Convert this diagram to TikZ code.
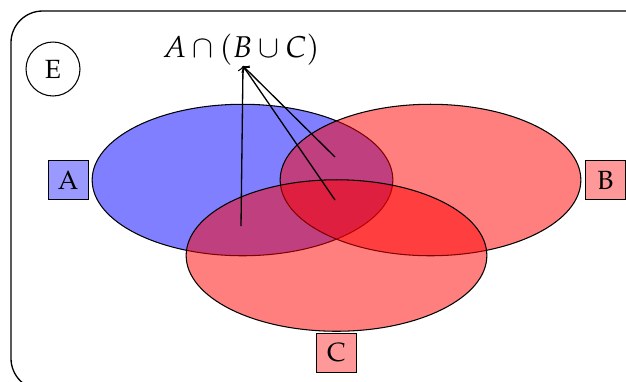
\documentclass[tikz,border=0pt]{standalone}
\usepackage[T1]{fontenc}
\usepackage{mathpazo}
\usetikzlibrary{shapes.geometric,positioning}
\begin{document}
\begin{tikzpicture}[x=0.013333cm,y=-0.013333cm,
  setA/.style={ellipse,draw,fill=blue,fill opacity=0.5,text opacity=1,minimum width=4.01cm,minimum height=2.02cm,inner sep=0pt},
  setR/.style={ellipse,draw,fill=red,fill opacity=0.5,text opacity=1,minimum width=4.01cm,minimum height=2.02cm,inner sep=0pt},
  tagbox/.style={draw,minimum size=0.53cm,inner sep=0pt},
  link/.style={->,line width=0.5pt}]
\useasboundingbox (0,0) rectangle (626,381);
\draw[rounded corners=12pt,line width=0.5pt] (11,11) rectangle (660,390);
\node[circle,draw,minimum size=0.72cm,inner sep=0pt] (E) at (53,69) {E};
\node[setA] (A) at (242.5,180) {};
\node[setR] (B) at (430.5,180) {};
\node[setR] (C) at (336.5,255.5) {};
\node[tagbox,fill=blue!40,left=0.04cm of A.west,anchor=east] (la) {A};
\node[tagbox,fill=red!40,right=0.05cm of B.east,anchor=west] (lb) {B};
\node[tagbox,fill=red!40,below=0.01cm of C.south,anchor=north] (lc) {C};
\node[font=\fontsize{11.4}{13}\selectfont] (F) at (241,50) {$A\cap(B\cup C)$};
\coordinate (tip) at (243,66);
\coordinate (p1) at (241,226);
\coordinate (p2) at (335,157);
\coordinate (p3) at (335,200);
\draw[link] (p1) -- (tip);
\draw[link] (p2) -- (tip);
\draw[link] (p3) -- (tip);
\end{tikzpicture}
\end{document}
